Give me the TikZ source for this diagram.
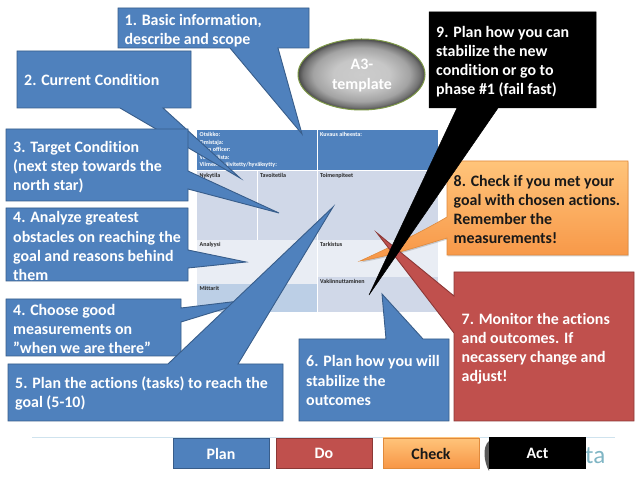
\documentclass[tikz,border=0pt]{standalone}
\usepackage{fontspec}
\setmainfont[Ligatures=NoCommon]{Carlito}
\usetikzlibrary{shadows,fadings}
\definecolor{cblue}{HTML}{4F81BD}
\definecolor{cblueline}{HTML}{385D8A}
\definecolor{cred}{HTML}{C0504D}
\definecolor{credline}{HTML}{8C3836}
\definecolor{orangetop}{HTML}{FFC47A}
\definecolor{orangebot}{HTML}{F79646}
\definecolor{orangeline}{HTML}{E08A3C}
\definecolor{cella}{HTML}{D0D8E8}
\definecolor{cellb}{HTML}{E9EDF4}
\definecolor{cellc}{HTML}{BCCFE6}
\definecolor{footline}{HTML}{CFE3EE}
\definecolor{logoteal}{HTML}{7FB5C4}
\definecolor{ringgreen}{HTML}{7F9A48}
\pgfdeclareradialshading{atemplate}{\pgfpoint{0bp}{0bp}}{color(0bp)=(black!20); color(11bp)=(black!22); color(19bp)=(black!36); color(23bp)=(black!55); color(25bp)=(black!72); color(50bp)=(black!72)}
\tikzset{
  x=1pt,y=-1pt,
  bluecall/.style={fill=cblue,draw=cblueline,line width=0.9pt,line join=miter},
  redcall/.style={fill=cred,draw=credline,line width=0.9pt},
  blackcall/.style={fill=black,draw=black,line width=0.5pt},
  orangecall/.style={top color=orangetop,bottom color=orangebot,draw=orangeline,line width=0.6pt,
     drop shadow={shadow xshift=0.5pt,shadow yshift=-1.5pt,opacity=0.35}},
  ctext/.style={anchor=north west,inner sep=0pt,align=left,text=white,
     font=\fontsize{15.9}{19.2}\selectfont\bfseries},
  dtext/.style={ctext,text=black!90},
  btn/.style={anchor=center,inner sep=0pt,text=white,font=\fontsize{15.9}{19.2}\selectfont\bfseries},
  tabtext/.style={anchor=north west,inner sep=0pt,align=left,text=black!85,font=\fontsize{6}{7.6}\selectfont\bfseries},
  tabhead/.style={tabtext,text=white},
}
\begin{document}
\begin{tikzpicture}
\useasboundingbox (0,0) rectangle (638,478);
\fill[white] (0,0) rectangle (638,478);

% A3 table
\fill[cblue] (197,130) rectangle (438,170);
\fill[cella] (197,171) rectangle (438,240);
\fill[cellb] (197,240) rectangle (438,284);
\fill[cellc] (197,284) rectangle (317,312);
\fill[cellb] (317,240) rectangle (438,277);
\fill[cella] (317,277) rectangle (438,312);
\draw[white,line width=0.5pt] (317,130) -- (317,312) (257,171) -- (257,240);
\node[tabhead] (t1) at (199.5,132) {Otsikko:\\Omistaja:\\Lean officer:\\Versio/lista:\\Viimeksi päivitetty/hyväksytty:};
\node[tabhead] (t2) at (320,132) {Kuvaus aiheesta:};
\node[tabtext] (t3) at (199.5,173) {Nykytila};
\node[tabtext] (t4) at (260,173) {Tavoitetila};
\node[tabtext] (t5) at (320,173) {Toimenpiteet};
\node[tabtext] (t6) at (199.5,242.5) {Analyysi};
\node[tabtext] (t7) at (320,242.5) {Tarkistus};
\node[tabtext] (t8) at (320,279) {Vakiinnuttaminen};
\node[tabtext] (t9) at (199.5,286) {Mittarit};

% footer line and logo remnant
\draw[footline,line width=0.7pt] (32,437.5) -- (615,437.5);
\node[anchor=west,inner sep=0pt,text=logoteal,font=\fontsize{25}{25}\selectfont] (logo) at (585,456) {ta};
\fill[black!65] (489,441) .. controls (482,447) and (484,462) .. (489,471) -- cycle;

% orange 8
\path[orangecall] (447,161) -- (628,161) -- (628,255) -- (447,255) -- (447,238)
  .. controls (420,246) and (390,256) .. (360,261) .. controls (395,245) and (425,230) .. (447,217) -- cycle;
\node[dtext] (n8) at (453.5,175) {8. Check if you met your\\goal with chosen actions.\\Remember the\\measurements!};

% 1
\draw[bluecall] (118,8) -- (309,8) -- (309,48) -- (278,48) -- (302,134) -- (230,48) -- (118,48) -- cycle;
\node[ctext] (n1) at (124.5,14) {1. Basic information,\\describe and scope};
% 2
\draw[bluecall] (17,51) -- (191,51) -- (191,108) -- (163,108) -- (240,178) -- (120,108) -- (17,108) -- cycle;
\node[ctext] (n2) at (24,74.5) {2. Current Condition};
% 3
\draw[bluecall] (6,129) -- (188,129) -- (188,171) -- (279,213) -- (188,189) -- (188,201) -- (6,201) -- cycle;
\node[ctext] (n3) at (13,141) {3. Target Condition\\(next step towards the\\north star)};
% 4
\draw[bluecall] (6,208) -- (188,208) -- (188,250) -- (246,262) -- (188,268) -- (188,281) -- (6,281) -- cycle;
\node[ctext] (n4) at (13,211.5) {4. Analyze greatest\\obstacles on reaching the\\goal and reasons behind\\them};
% 4b
\draw[bluecall] (6,299) -- (181,299) -- (181,308) -- (256,299) -- (181,322) -- (181,356) -- (6,356) -- cycle;
\node[ctext] (n4b) at (13,304) {4. Choose good\\measurements on\\”when we are there”};
% 5
\draw[bluecall] (8,364) -- (168,364) -- (333,207) -- (238,364) -- (283,364) -- (283,421) -- (8,421) -- cycle;
\node[ctext] (n5) at (15,376.5) {5. Plan the actions (tasks) to reach the\\goal (5-10)};
% 6
\draw[bluecall] (299,339) -- (386,339) -- (382,294) -- (423,339) -- (449,339) -- (449,421) -- (299,421) -- cycle;
\node[ctext] (n6) at (306,355.5) {6. Plan how you will\\stabilize the\\outcomes};
% 7
\draw[redcall] (454,272) -- (634,272) -- (634,421) -- (454,421) -- (454,333) -- (377,233) -- (454,296) -- cycle;
\node[ctext] (n7) at (461.5,313) {7. Monitor the actions\\and outcomes. If\\necassery change and\\adjust!};
% 9
\draw[blackcall] (429,12) -- (596,12) -- (596,108) -- (498,108) -- (369,295) -- (457,108) -- (429,108) -- cycle;
\node[ctext] (n9) at (436,26) {9. Plan how you can\\stabilize the new\\condition or go to\\phase \#1 (fail fast)};

% A3 ellipse
\path[draw=ringgreen,line width=1pt,shading=atemplate]
  (361.5,74.5) ellipse [x radius=63.5,y radius=35.5];
\node[anchor=center,inner sep=0pt,align=center,text=white,font=\fontsize{15.9}{19.2}\selectfont\bfseries] (a3) at (362,75.5) {A3-\\template};

% footer buttons
\draw[bluecall] (173,438) rectangle (269,468);
\node[btn] (plan) at (221,453.5) {Plan};
\draw[redcall] (276,438) rectangle (372,468);
\node[btn] (do) at (324,453.5) {Do};
\path[top color=orangetop,bottom color=orangebot,draw=orangeline,line width=0.6pt,
   drop shadow={shadow xshift=0.5pt,shadow yshift=-1.5pt,opacity=0.35}] (383,438) rectangle (479,468);
\node[btn,text=black!90] (check) at (431,453.5) {Check};
\fill[black] (489,437) rectangle (586,469);
\node[btn] (act) at (537.5,453.5) {Act};
\end{tikzpicture}
\end{document}
